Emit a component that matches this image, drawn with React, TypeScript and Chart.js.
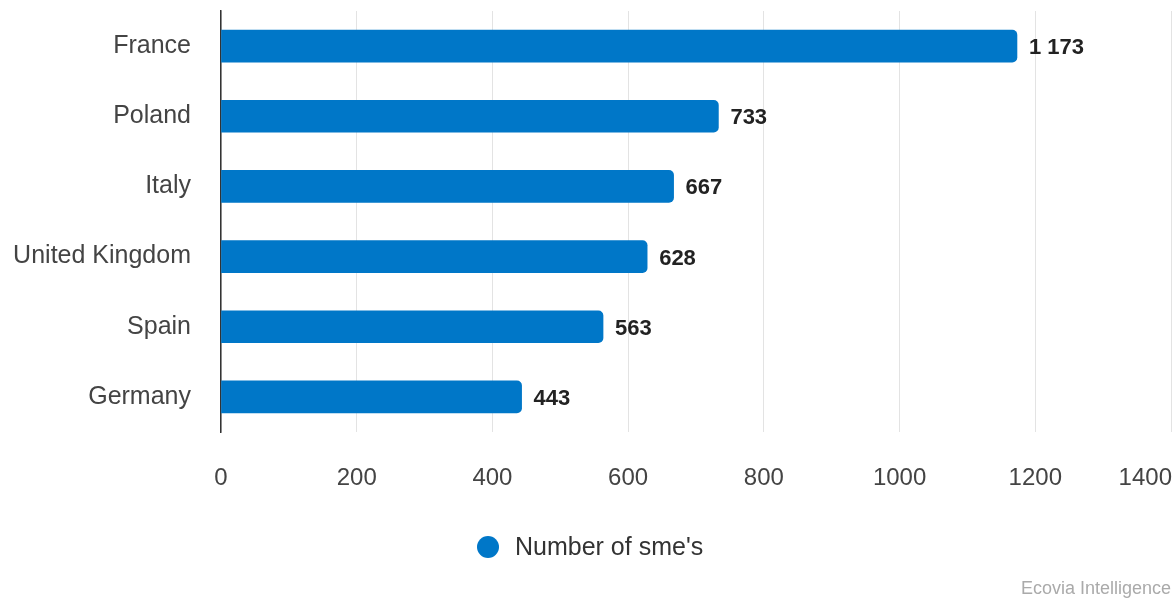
import React, { useEffect, useRef } from "react";
import { Chart, registerables } from "chart.js";

Chart.register(...registerables);

const categories = ["France", "Poland", "Italy", "United Kingdom", "Spain", "Germany"];
const values = [1173, 733, 667, 628, 563, 443];
const xTicks = [0, 200, 400, 600, 800, 1000, 1200, 1400];
const seriesLabel = "Number of sme's";
const credit = "Ecovia Intelligence";

const BAR_COLOR = "#0077c8";
const FONT = "'Liberation Sans', Arial, sans-serif";

const fmt = (v: number) => String(v).replace(/\B(?=(\d{3})+(?!\d))/g, " ");

const overlay = {
  id: "overlay",
  afterDraw(chart: any) {
    const ctx = chart.ctx as CanvasRenderingContext2D;
    const xs = chart.scales.x;
    const W = chart.width;
    ctx.save();
    // x tick labels
    ctx.font = `24px ${FONT}`;
    ctx.fillStyle = "#444444";
    ctx.textBaseline = "middle";
    ctx.textAlign = "center";
    xTicks.forEach((t) => {
      const txt = String(t);
      const w = ctx.measureText(txt).width;
      let cx = xs.getPixelForValue(t);
      if (cx + w / 2 > W - 1) cx = W - 1 - w / 2;
      ctx.fillText(txt, cx, 478);
    });
    // data labels
    const meta = chart.getDatasetMeta(0);
    ctx.font = `bold 22px ${FONT}`;
    ctx.fillStyle = "#222222";
    ctx.textAlign = "left";
    meta.data.forEach((el: any, i: number) => {
      ctx.fillText(fmt(values[i]), el.x + 12, el.y + 2);
    });
    // legend
    const ds = chart.data.datasets[0];
    ctx.font = `25px ${FONT}`;
    ctx.beginPath();
    ctx.arc(488, 547, 11, 0, Math.PI * 2);
    ctx.fillStyle = ds.backgroundColor as string;
    ctx.fill();
    ctx.fillStyle = "#333333";
    ctx.textAlign = "left";
    ctx.fillText(ds.label as string, 515, 548);
    // credit
    ctx.font = `18px ${FONT}`;
    ctx.fillStyle = "#aaaaaa";
    ctx.textAlign = "right";
    ctx.fillText(credit, W - 2, 589);
    ctx.restore();
  },
};

export default function App() {
  const ref = useRef<HTMLCanvasElement | null>(null);
  useEffect(() => {
    document.body.style.margin = "0";
    if (!ref.current) return;
    const chart = new Chart(ref.current, {
      type: "bar",
      data: {
        labels: categories,
        datasets: [
          {
            label: seriesLabel,
            data: values,
            backgroundColor: BAR_COLOR,
            borderRadius: { topRight: 5, bottomRight: 5, topLeft: 0, bottomLeft: 0 },
            borderSkipped: false,
            barThickness: 32,
          },
        ],
      },
      options: {
        indexAxis: "y",
        animation: false,
        responsive: false,
        layout: { autoPadding: false, padding: { top: 11, right: 2, left: 0, bottom: 0 } },
        plugins: { legend: { display: false }, tooltip: { enabled: false } },
        scales: {
          x: {
            min: 0,
            max: 1400,
            ticks: { stepSize: 200, display: false },
            grid: { color: "#e3e3e3", lineWidth: 1, drawTicks: false },
            border: { display: false },
            afterFit: (s: any) => {
              s.height = 168;
              s.paddingLeft = 0;
              s.paddingRight = 0;
            },
          },
          y: {
            ticks: { font: { family: FONT, size: 25 }, color: "#444444", padding: 30 },
            grid: { display: false, drawTicks: false },
            border: { display: true, color: "#333333", width: 1.5 },
            afterFit: (s: any) => {
              s.width = 221;
              s.paddingTop = 0;
              s.paddingBottom = 0;
            },
          },
        },
      },
      plugins: [overlay],
    } as any);
    return () => chart.destroy();
  }, []);
  return (
    <div style={{ width: 1173, height: 600 }}>
      <canvas ref={ref} width={1173} height={600} style={{ display: "block" }} />
    </div>
  );
}
